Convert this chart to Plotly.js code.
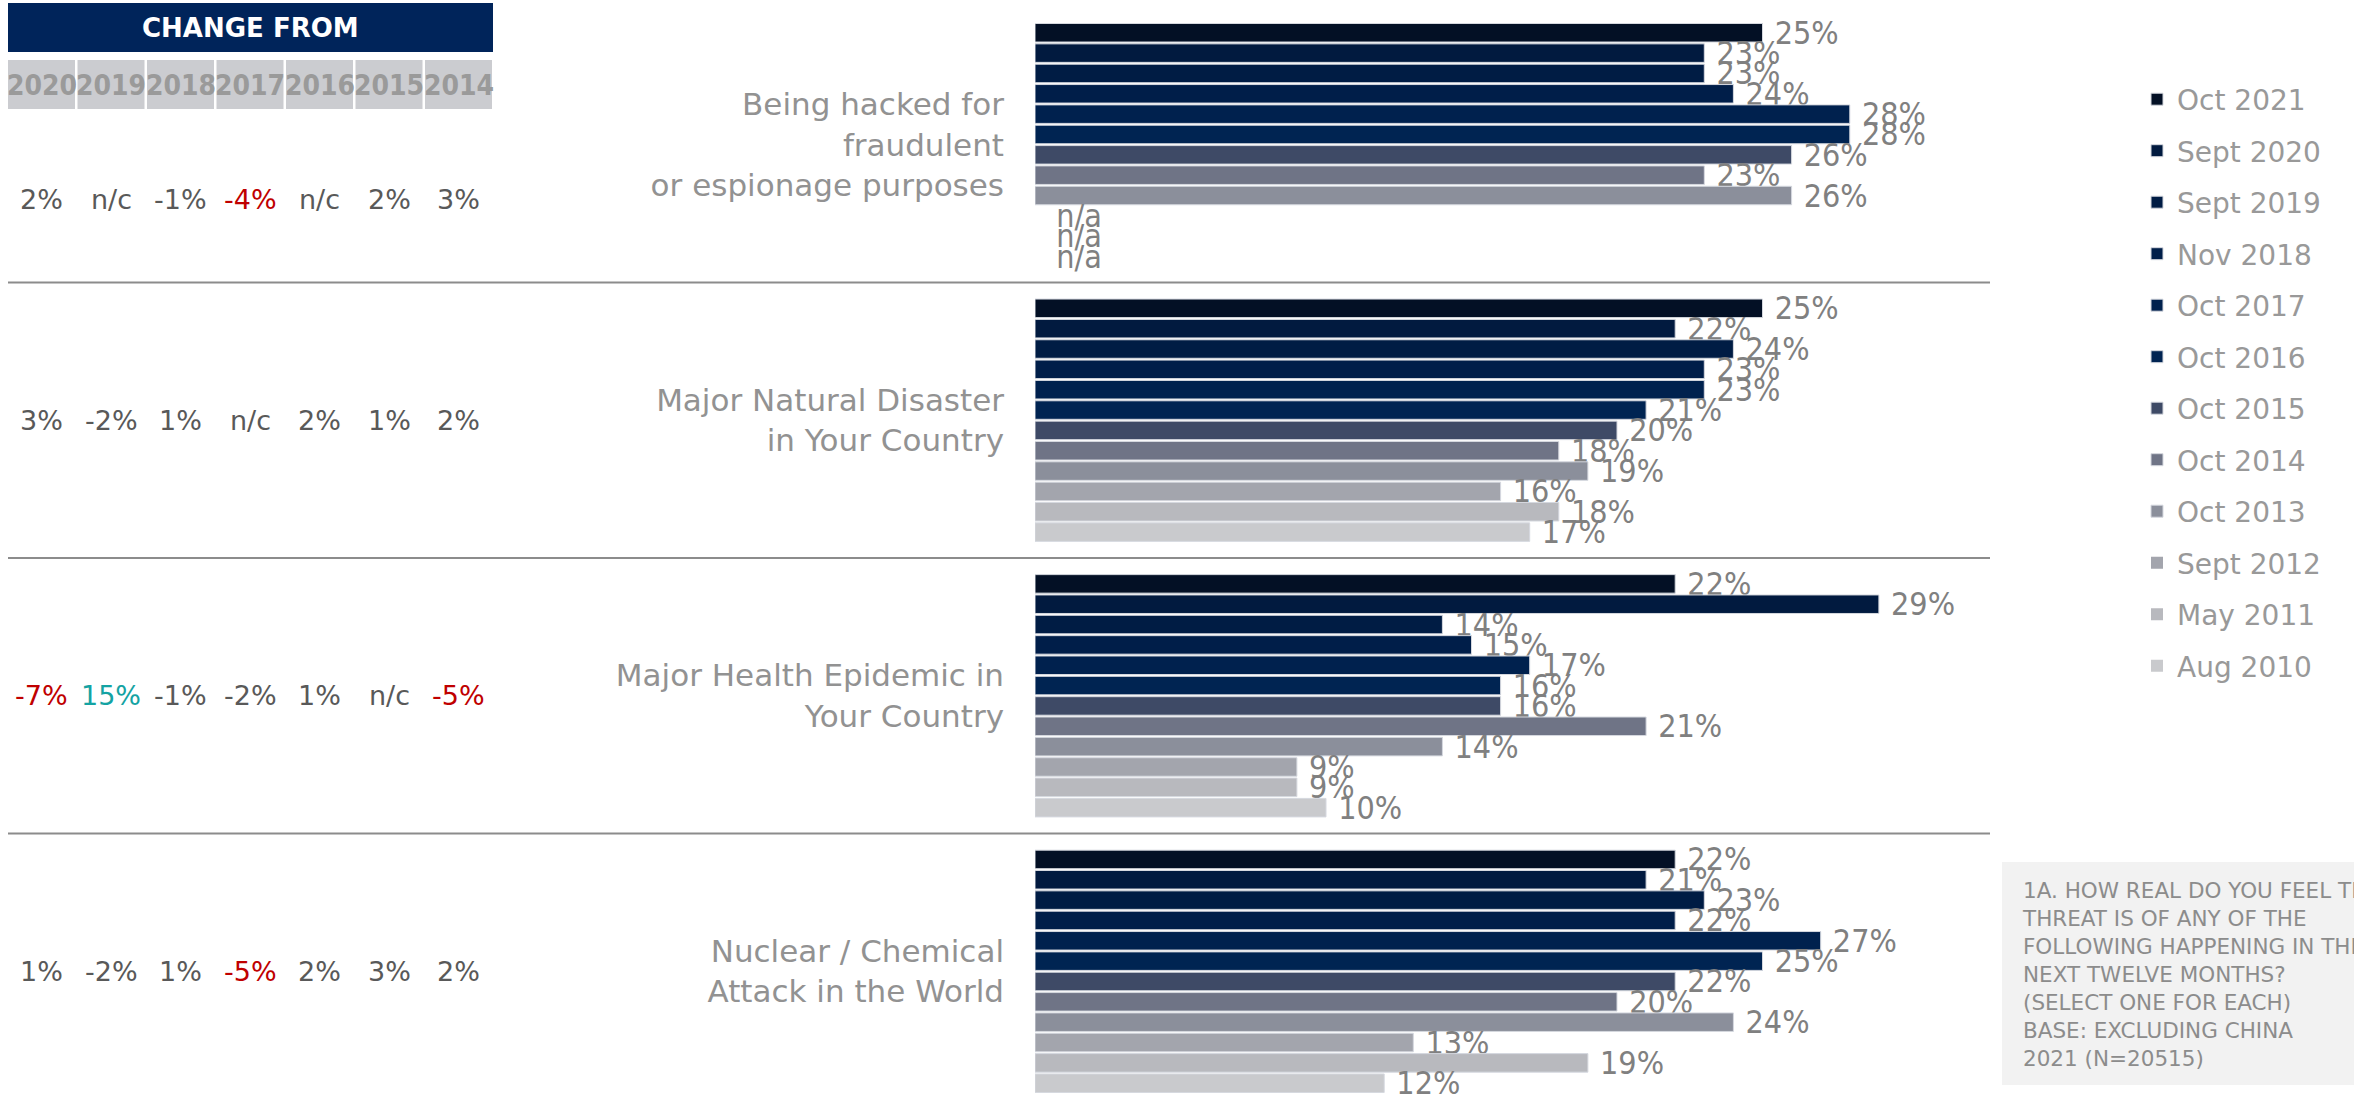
<!DOCTYPE html>
<html><head><meta charset="utf-8">
<script src="https://cdn.plot.ly/plotly-3.0.1.min.js"></script>
<style>html,body{margin:0;padding:0;background:#fff;overflow:hidden}</style>
</head><body>
<div id="chart" style="width:2354px;height:1100px"></div>
<script>
// ---------- data ----------
const categories = [
  "Being hacked for<br>fraudulent<br>or espionage purposes",
  "Major Natural Disaster<br>in Your Country",
  "Major Health Epidemic in<br>Your Country",
  "Nuclear / Chemical<br>Attack in the World"
];
const seriesNames = ["Oct 2021","Sept 2020","Sept 2019","Nov 2018","Oct 2017","Oct 2016",
                     "Oct 2015","Oct 2014","Oct 2013","Sept 2012","May 2011","Aug 2010"];
const seriesColors = ["#031025","#011a3f","#001c44","#001e49","#00214e","#002452",
                      "#3e4a66","#6f7486","#8b8f9b","#a3a5ad","#b8b9be","#c9cacd"];
// values (%) per category, in series order; null = n/a
const hackedValues   = [25,23,23,24,28,28,26,23,26,null,null,null];
const disasterValues = [25,22,24,23,23,21,20,18,19,16,18,17];
const epidemicValues = [22,29,14,15,17,16,16,21,14,9,9,10];
const nuclearValues  = [22,21,23,22,27,25,22,20,24,13,19,12];
const categoryValues = [hackedValues, disasterValues, epidemicValues, nuclearValues];

// change-from table
const changeYears    = ["2020","2019","2018","2017","2016","2015","2014"];
const hackedChange   = ["2%","n/c","-1%","-4%","n/c","2%","3%"];
const disasterChange = ["3%","-2%","1%","n/c","2%","1%","2%"];
const epidemicChange = ["-7%","15%","-1%","-2%","1%","n/c","-5%"];
const nuclearChange  = ["1%","-2%","1%","-5%","2%","3%","2%"];
const changeRows = [hackedChange, disasterChange, epidemicChange, nuclearChange];
// significance: "up" / "down" / ""
const hackedSig   = ["","","","down","","",""];
const disasterSig = ["","","","","","",""];
const epidemicSig = ["down","up","","","","","down"];
const nuclearSig  = ["","","","down","","",""];
const sigRows = [hackedSig, disasterSig, epidemicSig, nuclearSig];

const noteText = "1A. HOW REAL DO YOU FEEL THE<br>THREAT IS OF ANY OF THE<br>FOLLOWING HAPPENING IN THE<br>NEXT TWELVE MONTHS?<br>(SELECT ONE FOR EACH)<br>BASE: EXCLUDING CHINA<br>2021 (N=20515)";

// ---------- layout helpers ----------
const W = 2354, H = 1100, ML = 1035, MR = 364, MT = 0, MB = 0;
const PW = W - ML - MR, PH = H - MT - MB;
const px = p => (p - ML) / PW;
const py = p => 1 - (p - MT) / PH;

const baseFont = "DejaVu Sans, Verdana, sans-serif";
const narrowFont = "Liberation Sans Narrow, DejaVu Sans Condensed, Arial Narrow, sans-serif";

// ---------- traces ----------
const traces = seriesNames.map((name, s) => {
  const vals = categoryValues.map(cv => cv[s]);
  return {
    type: "bar", orientation: "h", name: name, legendgroup: "g" + s,
    y: categories,
    x: vals.map(v => v == null ? 0 : v),
    text: vals.map(v => v == null ? "\u00a0\u00a0n/a" : "\u00a0" + v + "%"),
    textposition: "outside", cliponaxis: false, constraintext: "none",
    textfont: {family: narrowFont, size: 32, color: "#808080"},
    marker: {color: seriesColors[s],
             line: {color: "#d5d8df", width: vals.map(v => v == null ? 0 : 1)}},
    hoverinfo: "skip"
  };
});

// ---------- shapes & annotations ----------
const shapes = [];
const annotations = [];

// header
shapes.push({type: "rect", xref: "paper", yref: "paper", x0: px(8), x1: px(493), y0: py(52), y1: py(3),
             fillcolor: "#00245a", line: {width: 0}, layer: "below"});
annotations.push({xref: "paper", yref: "paper", x: px(250), y: py(28), text: "<b>CHANGE FROM</b>",
                  showarrow: false, xanchor: "center", yanchor: "middle",
                  font: {family: baseFont, size: 26, color: "#ffffff"}});
const colLeft = 8, colStep = 69.5, colW = 67;
changeYears.forEach((yr, k) => {
  const x0 = colLeft + k * colStep;
  shapes.push({type: "rect", xref: "paper", yref: "paper", x0: px(x0), x1: px(x0 + colW),
               y0: py(109), y1: py(60), fillcolor: "#cbccd0", line: {width: 0}, layer: "below"});
  annotations.push({xref: "paper", yref: "paper", x: px(x0 + colW / 2), y: py(85), text: "<b>" + yr + "</b>",
                    showarrow: false, xanchor: "center", yanchor: "middle",
                    font: {family: narrowFont, size: 28, color: "#9a9a9a"}});
});
const sigColor = {up: "#14a3a3", down: "#c00000", "": "#595959"};
changeRows.forEach((row, i) => {
  row.forEach((val, k) => {
    annotations.push({xref: "paper", yref: "y", x: px(colLeft + k * colStep + colW / 2), y: i,
                      yshift: i === 0 ? -55 : 0, text: val, showarrow: false,
                      xanchor: "center", yanchor: "middle",
                      font: {family: baseFont, size: 27, color: sigColor[sigRows[i][k]]}});
  });
});
// separators
for (let i = 0; i < categories.length - 1; i++) {
  shapes.push({type: "line", xref: "paper", yref: "y", x0: px(8), x1: 1, y0: i + 0.5, y1: i + 0.5,
               line: {color: "#8c8c8c", width: 2}});
}
// note box
shapes.push({type: "rect", xref: "paper", yref: "paper", x0: px(2002), x1: px(2370), y0: py(1085), y1: py(862),
             fillcolor: "#f2f2f2", line: {width: 0}, layer: "below"});
annotations.push({xref: "paper", yref: "paper", x: px(2020), y: py(974), text: noteText, showarrow: false,
                  xanchor: "left", yanchor: "middle", align: "left",
                  font: {family: baseFont, size: 21.5, color: "#8c8c8c"}});

const layout = {
  width: W, height: H,
  margin: {l: ML, r: MR, t: MT, b: MB, pad: 0},
  paper_bgcolor: "#ffffff", plot_bgcolor: "#ffffff",
  barmode: "group", bargap: 0.114, bargroupgap: 0.09,
  showlegend: true,
  legend: {x: px(2137), y: py(74.5), xanchor: "left", yanchor: "top", traceorder: "grouped",
           tracegroupgap: 12.1, bgcolor: "rgba(0,0,0,0)", borderwidth: 0,
           font: {family: baseFont, size: 28, color: "#999999"}},
  xaxis: {range: [0, PW / 29.1], visible: false, fixedrange: true},
  yaxis: {type: "category", categoryarray: categories, categoryorder: "array",
          range: [3.467, -0.525], showgrid: false, zeroline: false, showline: false,
          ticks: "", ticklabelstandoff: 30, fixedrange: true,
          tickfont: {family: baseFont, size: 31, color: "#929292"}},
  shapes: shapes, annotations: annotations,
  font: {family: baseFont}
};

Plotly.newPlot("chart", traces, layout, {displayModeBar: false, staticPlot: true});
</script>
</body></html>
